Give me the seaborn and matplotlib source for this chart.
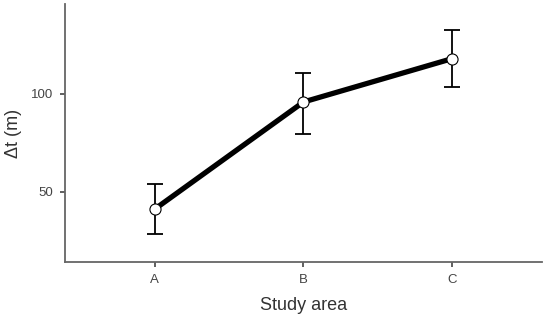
import numpy as np
import pandas as pd
import matplotlib
matplotlib.use("Agg")
import matplotlib.pyplot as plt
import seaborn as sns

# Data
areas = ["A", "B", "C"]
delta_t = [41.1, 95.9, 118.1]
err_low = [12.6, 16.4, 14.7]
err_high = [13.0, 14.7, 14.5]

df = pd.DataFrame({"area": areas, "dt": delta_t})

sns.set_style("ticks")
plt.rcParams["font.family"] = ["Liberation Sans", "DejaVu Sans"]

fig = plt.figure(figsize=(5.46, 3.19), dpi=100)
ax = fig.add_axes([0.1196, 0.178, 0.8724, 0.8095])

# Error bars first so the markers sit on top
ax.errorbar(df["area"], df["dt"], yerr=[err_low, err_high], fmt="none",
            ecolor="black", elinewidth=1.3, capsize=5.5, capthick=1.3, zorder=2)

sns.lineplot(data=df, x="area", y="dt", ax=ax, color="black", linewidth=3.8,
             marker="o", markersize=8, markerfacecolor="white",
             markeredgecolor="black", markeredgewidth=0.8, zorder=3)

ax.set_xlim(-0.6, 2.6)
ax.set_ylim(14, 146)
ax.set_yticks([50, 100])

ax.set_xlabel("Study area", fontsize=13, color="#333333", labelpad=8)
ax.set_ylabel("Δt (m)", fontsize=13, color="#333333", labelpad=7)
ax.tick_params(axis="both", labelsize=9.5, colors="#444444", length=3.5,
               width=1.2, pad=5)

for side in ["left", "bottom"]:
    ax.spines[side].set_color("#666666")
    ax.spines[side].set_linewidth(1.3)
sns.despine(ax=ax)

fig.savefig("out.png", dpi=100)
